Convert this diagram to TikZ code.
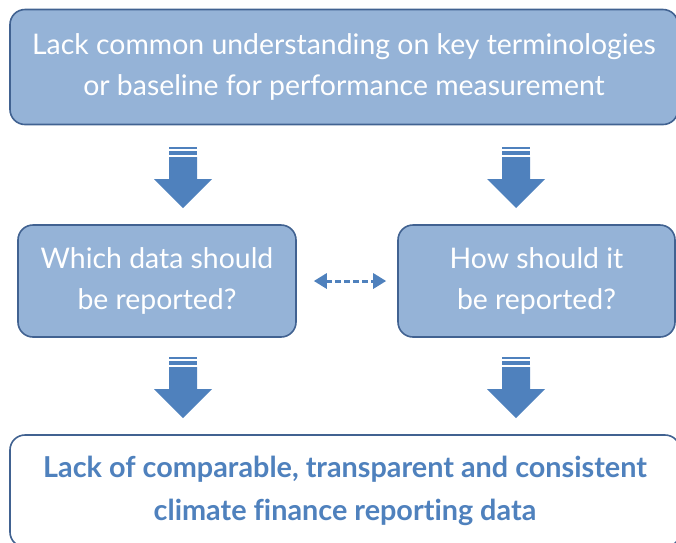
\documentclass[tikz,border=0pt]{standalone}
\usepackage{fontspec}
\setmainfont[Ligatures=CommonOff]{Lato}
\usetikzlibrary{arrows.meta}
\definecolor{boxfill}{RGB}{149,179,215}
\definecolor{boxline}{RGB}{65,98,145}
\definecolor{arrowblue}{RGB}{79,129,189}

\begin{document}
\begin{tikzpicture}[x=1pt, y=-1pt,
        issue/.style={draw=boxline, line width=1.6pt, fill=boxfill, rounded corners=15pt,
            text=white, align=center, inner sep=0pt, font=\fontsize{28.4}{41}\selectfont},
        result/.style={issue, fill=white, text=arrowblue, font=\fontsize{28.8}{43}\selectfont\bfseries}]
        \useasboundingbox (0,0) rectangle (676,542);
        % boxes
        \node[issue, minimum width=668pt, minimum height=115pt] (lack) at (344,67)
            {Lack common understanding on key terminologies\\or baseline for performance measurement};
        \node[issue, minimum width=278pt, minimum height=112pt] (which) at (157,281)
            {Which data should\\be reported?};
        \node[issue, minimum width=277pt, minimum height=112pt] (how) at (536.5,281)
            {How should it\\be reported?};
        \node[result, minimum width=670pt, minimum height=112pt] (data) at (345,491)
            {Lack of comparable, transparent and consistent\\climate finance reporting data};
        % block arrows
        \foreach \x/\y in {183/147, 516/147, 183/357, 516/357} {
            \fill[arrowblue] (\x-14,\y) rectangle (\x+14,\y+2);
            \fill[arrowblue] (\x-14,\y+4) rectangle (\x+14,\y+8);
            \fill[arrowblue] (\x-14,\y+10) -- (\x+14,\y+10) -- (\x+14,\y+32) -- (\x+29,\y+32)
                -- (\x,\y+61) -- (\x-29,\y+32) -- (\x-14,\y+32) -- cycle;
        }
        \draw[arrowblue, line width=3pt, dash pattern=on 6pt off 3pt,
            {Triangle[length=13pt, width=15pt]}-{Triangle[length=13pt, width=15pt]},
            shorten <=17pt, shorten >=11pt] (which) -- (how);
\end{tikzpicture}
\end{document}
